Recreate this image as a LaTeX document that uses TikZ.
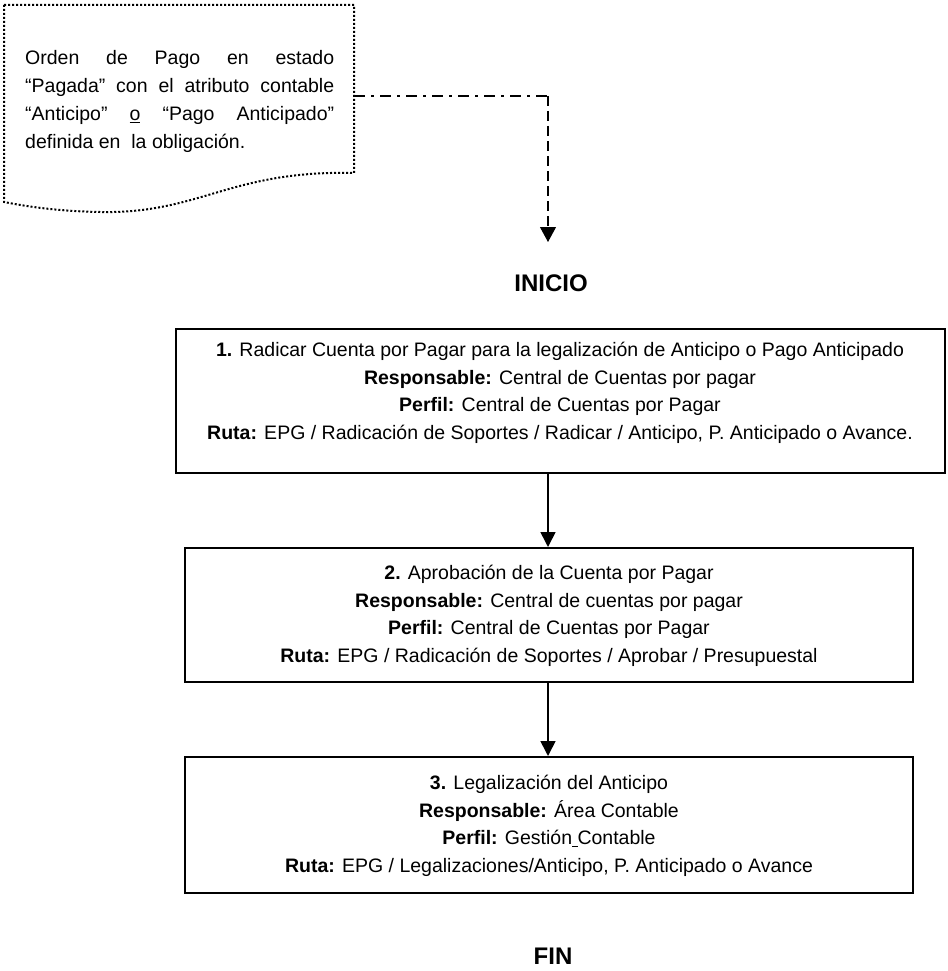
\documentclass[tikz,border=0pt]{standalone}
\usepackage{fontspec}
\setmainfont{Liberation Sans}
\usetikzlibrary{arrows.meta}
\begin{document}
\begin{tikzpicture}[x=1pt,y=-1pt,
  boxshape/.style={draw, line width=2pt, rectangle, inner sep=0pt},
  boxtext/.style={align=center, inner sep=0pt, font=\fontsize{19.5}{27.6}\selectfont},
  doctext/.style={align=left, inner sep=0pt, font=\fontsize{19.5}{28}\selectfont},
  titletext/.style={inner sep=0pt, font=\fontsize{24}{28}\selectfont\bfseries},
  flow/.style={line width=1.6pt, -{Triangle[width=15pt,length=15pt]}},
  docflow/.style={line width=2pt},
  dotline/.style={line width=2pt, dash pattern=on 2pt off 2pt}
]
\useasboundingbox (0,0) rectangle (947,971);

% document shape
\draw[dotline] (4,5) -- (354,5) -- (354,173)
  .. controls (230,170) and (200,214) .. (100,212)
  .. controls (50,211) and (20,205) .. (4,202) -- cycle;
\node[doctext, anchor=north west] (doc) at (25,50) {%
\makebox[309pt][s]{Orden de Pago en estado}\\
\makebox[309pt][s]{“Pagada” con el atributo contable}\\
\makebox[309pt][s]{“Anticipo” \underline{o} “Pago Anticipado”}\\
definida en\ \ la obligación.};
\coordinate (docR) at (354,96);
\coordinate (corner) at (548,96);

% INICIO / FIN
\node[titletext] (inicio) at (551,283) {INICIO};
\node[titletext] (fin) at (553,956) {FIN};

% incoming arrow from document
\draw[docflow, dash pattern=on 11pt off 6pt on 3pt off 6pt] (docR) -- (corner);
\coordinate (tip) at (548,242);
\draw[docflow, dash pattern=on 10pt off 5pt] (corner) -- (548,228);
\draw[line width=1pt, -{Triangle[width=16pt,length=15pt]}] (548,227) -- (tip);

% boxes
\node[boxshape, minimum width=769pt, minimum height=144pt] (b1) at (560.5,401) {};
\node[boxtext] (t1) at (560,393) {%
\textbf{1.} Radicar Cuenta por Pagar para la legalización de Anticipo o Pago Anticipado\\
\textbf{Responsable:} Central de Cuentas por pagar\\
\textbf{Perfil:} Central de Cuentas por Pagar\\
\textbf{Ruta:} EPG / Radicación de Soportes / Radicar / Anticipo, P. Anticipado o Avance.};

\node[boxshape, minimum width=728pt, minimum height=134pt] (b2) at (549,615) {};
\node[boxtext] (t2) at (549,616) {%
\textbf{2.} Aprobación de la Cuenta por Pagar\\
\textbf{Responsable:} Central de cuentas por pagar\\
\textbf{Perfil:} Central de Cuentas por Pagar\\
\textbf{Ruta:} EPG / Radicación de Soportes / Aprobar / Presupuestal};

\node[boxshape, minimum width=728pt, minimum height=136pt] (b3) at (549,825) {};
\node[boxtext] (t3) at (549,826) {%
\textbf{3.} Legalización del Anticipo\\
\textbf{Responsable:} Área Contable\\
\textbf{Perfil:} Gestión\underline{\ }Contable\\
\textbf{Ruta:} EPG / Legalizaciones/Anticipo, P. Anticipado o Avance};

\draw[flow] (b1.south -| tip) -- (b2.north -| tip);
\draw[flow] (b2.south -| tip) -- (b3.north -| tip);
\end{tikzpicture}
\end{document}
